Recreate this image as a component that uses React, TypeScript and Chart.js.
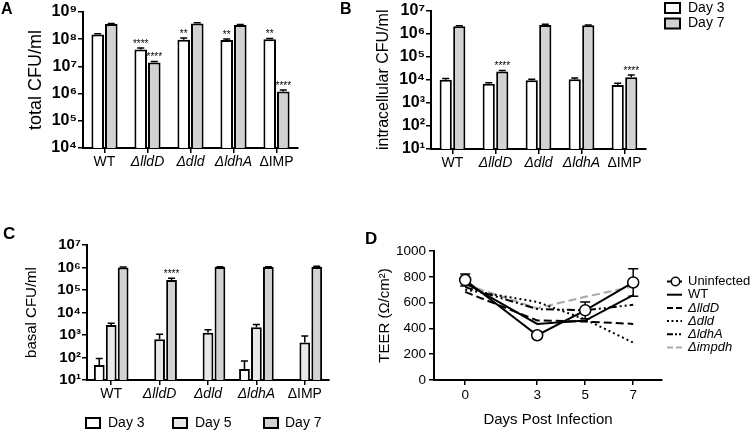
import React, { useEffect, useRef } from 'react';
import { Chart, registerables } from 'chart.js';

Chart.register(...registerables);

const FONT = "'Liberation Sans', Arial, Helvetica, sans-serif";

// ---------------- data ----------------
const strains = ['WT', 'ΔlldD', 'Δdld', 'ΔldhA', 'ΔIMP'];
const strainItalic = [false, true, true, true, false];

// Panel A: total CFU/ml
const totalDay3 = [1.5e8, 4.2e7, 9.5e7, 9.3e7, 1.0e8];
const totalDay3Err = [1.0e7, 5.0e6, 1.5e7, 8.0e6, 5.0e6];
const totalDay3Sig = ['', '****', '**', '**', '**'];
const totalDay7 = [3.6e8, 1.4e7, 3.8e8, 3.3e8, 1.2e6];
const totalDay7Err = [2.0e7, 1.0e6, 2.0e7, 2.0e7, 1.5e5];
const totalDay7Sig = ['', '****', '', '', '****'];
const totalTickValues = [1e4, 1e5, 1e6, 1e7, 1e8, 1e9];
const totalTickLabels = ['10⁴', '10⁵', '10⁶', '10⁷', '10⁸', '10⁹'];

// Panel B: intracellular CFU/ml
const intraDay3 = [1.0e4, 6.8e3, 9.5e3, 1.05e4, 6.0e3];
const intraDay3Err = [1.5e3, 6.0e2, 1.0e3, 1.5e3, 1.0e3];
const intraDay3Sig = ['', '', '', '', ''];
const intraDay7 = [2.1e6, 2.3e4, 2.4e6, 2.3e6, 1.3e4];
const intraDay7Err = [1.0e5, 2.0e3, 1.5e5, 1.0e5, 3.0e3];
const intraDay7Sig = ['', '****', '', '', '****'];
const intraTickValues = [1e1, 1e2, 1e3, 1e4, 1e5, 1e6, 1e7];
const intraTickLabels = ['10¹', '10²', '10³', '10⁴', '10⁵', '10⁶', '10⁷'];

// Panel C: basal CFU/ml
const basalDay3 = [47, null, null, 31, null];
const basalDay3Err = [43, null, null, 39, null];
const basalDay3Sig = ['', '', '', '', ''];
const basalDay5 = [2800, 650, 1260, 2200, 470];
const basalDay5Err = [500, 420, 440, 700, 430];
const basalDay5Sig = ['', '', '', '', ''];
const basalDay7 = [1.0e6, 2.8e5, 1.05e6, 1.05e6, 1.05e6];
const basalDay7Err = [4.0e4, 5.0e4, 4.0e4, 4.0e4, 8.0e4];
const basalDay7Sig = ['', '****', '', '', ''];
const basalTickValues = [1e1, 1e2, 1e3, 1e4, 1e5, 1e6, 1e7];
const basalTickLabels = ['10¹', '10²', '10³', '10⁴', '10⁵', '10⁶', '10⁷'];

// Panel D: TEER
const teerDays = [0, 3, 5, 7];
const teerDayLabels = ['0', '3', '5', '7'];
const teerTickValues = [0, 200, 400, 600, 800, 1000];
const teerTickLabels = ['0', '200', '400', '600', '800', '1000'];
const teerUninfected = [775, 347, 540, 756];
const teerUninfectedErr = [47, 0, 65, 106];
const teerWT = [752, 435, 461, 658];
const teerLldD = [683, 462, 453, 435];
const teerDld = [700, 605, 470, 290];
const teerLdhA = [720, 550, 540, 583];
const teerImpdh = [740, 556, 645, 725];

// ---------------- styles ----------------
const WHITE = '#ffffff';
const LIGHT = '#e8e8e8';
const GRAY = '#d2d2d2';

interface BarSeries {
  label: string;
  values: (number | null)[];
  errors: (number | null)[];
  stars: string[];
  fill: string;
}
interface LegendBox { x: number; y: number; w: number; h: number; tx: number; ty: number; }
interface BarPanelSpec {
  series: BarSeries[];
  min: number; max: number;
  tickValues: number[]; tickLabels: string[];
  yTitle: string; yTitleSize: number; yTitlePad: number;
  yWidth: number; xHeight: number;
  padding: { top: number; right: number; bottom: number; left: number };
  catPct: number; barPct: number;
  legend: LegendBox[]; legendFont: number;
  tickFont: number; xFont: number;
}

function barConfig(spec: BarPanelSpec): any {
  const extras = {
    id: 'barExtras',
    afterDatasetsDraw(chart: any) {
      const ctx = chart.ctx;
      const y = chart.scales.y;
      spec.series.forEach((s, di) => {
        const meta = chart.getDatasetMeta(di);
        meta.data.forEach((el: any, j: number) => {
          const v = s.values[j];
          if (v == null) return;
          const e = s.errors[j] || 0;
          const yBar = y.getPixelForValue(v);
          const yTop = e > 0 ? y.getPixelForValue(v + e) : yBar;
          ctx.save();
          ctx.strokeStyle = '#000';
          ctx.lineWidth = 1.5;
          if (e > 0) {
            ctx.beginPath();
            ctx.moveTo(el.x, yBar);
            ctx.lineTo(el.x, yTop);
            ctx.moveTo(el.x - 3.5, yTop);
            ctx.lineTo(el.x + 3.5, yTop);
            ctx.stroke();
          }
          if (s.stars[j]) {
            ctx.fillStyle = '#000';
            ctx.font = `10px ${FONT}`;
            ctx.textAlign = 'center';
            ctx.textBaseline = 'alphabetic';
            ctx.fillText(s.stars[j], el.x, Math.min(yTop, yBar) - 1.5);
          }
          ctx.restore();
        });
      });
    },
    afterDraw(chart: any) {
      const ctx = chart.ctx;
      spec.legend.forEach((b, i) => {
        const s = spec.series[i];
        ctx.save();
        ctx.fillStyle = s.fill;
        ctx.fillRect(b.x, b.y, b.w, b.h);
        ctx.strokeStyle = '#000';
        ctx.lineWidth = 2;
        ctx.strokeRect(b.x, b.y, b.w, b.h);
        ctx.fillStyle = '#000';
        ctx.font = `${spec.legendFont}px ${FONT}`;
        ctx.textAlign = 'left';
        ctx.textBaseline = 'middle';
        ctx.fillText(s.label, b.tx, b.ty);
        ctx.restore();
      });
    },
  };

  return {
    type: 'bar',
    data: {
      labels: strains,
      datasets: spec.series.map((s) => ({
        label: s.label,
        data: s.values,
        backgroundColor: s.fill,
        borderColor: '#000',
        borderWidth: 2,
        borderSkipped: 'bottom',
        categoryPercentage: spec.catPct,
        barPercentage: spec.barPct,
      })),
    },
    options: {
      animation: false,
      responsive: false,
      maintainAspectRatio: false,
      devicePixelRatio: 1,
      layout: { padding: spec.padding },
      plugins: { legend: { display: false }, tooltip: { enabled: false } },
      scales: {
        x: {
          type: 'category',
          offset: true,
          grid: { offset: false, display: true, drawOnChartArea: false, drawTicks: true, tickLength: 5, color: '#000', lineWidth: 1.5 },
          border: { display: true, color: '#000', width: 2 },
          ticks: {
            color: '#000',
            padding: 1,
            maxRotation: 0,
            autoSkip: false,
            font: (ctx: any) => ({ family: FONT, size: spec.xFont, style: strainItalic[ctx.index] ? 'italic' : 'normal' }),
          },
          afterFit: (s: any) => { s.height = spec.xHeight; },
        },
        y: {
          type: 'logarithmic',
          min: spec.min,
          max: spec.max,
          afterBuildTicks: (s: any) => { s.ticks = spec.tickValues.map((v) => ({ value: v })); },
          ticks: {
            autoSkip: false,
            color: '#000',
            padding: 1,
            font: { family: FONT, size: spec.tickFont, weight: 'bold' },
            callback: (_v: any, i: number) => spec.tickLabels[i],
          },
          grid: { display: true, drawOnChartArea: false, drawTicks: true, tickLength: 5, color: '#000', lineWidth: 1.5 },
          border: { display: true, color: '#000', width: 2 },
          title: {
            display: true,
            text: spec.yTitle,
            color: '#000',
            font: { family: FONT, size: spec.yTitleSize },
            padding: { top: spec.yTitlePad, bottom: 0 },
          },
          afterFit: (s: any) => { s.width = spec.yWidth; },
        },
      },
    },
    plugins: [extras],
  };
}

// ---------------- TEER panel ----------------
interface TeerSeries {
  label: string; values: number[]; color: string; dash: number[]; legendDash: number[]; italic: boolean; marker: boolean;
}
const teerSeries: TeerSeries[] = [
  { label: 'Uninfected', values: teerUninfected, color: '#000', dash: [], legendDash: [], italic: false, marker: true },
  { label: 'WT', values: teerWT, color: '#000', dash: [], legendDash: [], italic: false, marker: false },
  { label: 'ΔlldD', values: teerLldD, color: '#000', dash: [8, 4], legendDash: [6, 3], italic: true, marker: false },
  { label: 'Δdld', values: teerDld, color: '#000', dash: [2, 3], legendDash: [2, 2.5], italic: true, marker: false },
  { label: 'ΔldhA', values: teerLdhA, color: '#000', dash: [8, 3, 2, 3, 2, 3], legendDash: [6, 2, 2, 2, 2, 2], italic: true, marker: false },
  { label: 'Δimpdh', values: teerImpdh, color: '#a9a9a9', dash: [8, 4], legendDash: [6, 3], italic: true, marker: false },
];

function teerConfig(): any {
  const extras = {
    id: 'teerExtras',
    beforeDatasetsDraw(chart: any) {
      const ctx = chart.ctx;
      const xs = chart.scales.x;
      const ys = chart.scales.y;
      ctx.save();
      ctx.strokeStyle = '#000';
      ctx.lineWidth = 1.5;
      teerDays.forEach((d, i) => {
        const e = teerUninfectedErr[i];
        if (!e) return;
        const x = xs.getPixelForValue(d);
        const y1 = ys.getPixelForValue(teerUninfected[i] + e);
        const y2 = ys.getPixelForValue(teerUninfected[i] - e);
        ctx.beginPath();
        ctx.moveTo(x, y1); ctx.lineTo(x, y2);
        ctx.moveTo(x - 5, y1); ctx.lineTo(x + 5, y1);
        ctx.moveTo(x - 5, y2); ctx.lineTo(x + 5, y2);
        ctx.stroke();
      });
      ctx.restore();
    },
    afterDraw(chart: any) {
      const ctx = chart.ctx;
      const x0 = 307, x1 = 322, tx = 328, top = 56.5, step = 13.2;
      teerSeries.forEach((s, i) => {
        const y = top + i * step;
        ctx.save();
        ctx.strokeStyle = s.color;
        ctx.lineWidth = 2;
        ctx.setLineDash(s.legendDash);
        ctx.beginPath();
        ctx.moveTo(x0, y); ctx.lineTo(x1, y);
        ctx.stroke();
        if (s.marker) {
          ctx.setLineDash([]);
          ctx.beginPath();
          ctx.arc((x0 + x1) / 2 + 1, y, 4.2, 0, Math.PI * 2);
          ctx.fillStyle = '#fff';
          ctx.fill();
          ctx.lineWidth = 1.5;
          ctx.stroke();
        }
        ctx.fillStyle = '#000';
        ctx.font = `${s.italic ? 'italic ' : ''}13px ${FONT}`;
        ctx.textAlign = 'left';
        ctx.textBaseline = 'middle';
        ctx.fillText(s.label, tx, y);
        ctx.restore();
      });
    },
  };

  return {
    type: 'line',
    data: {
      datasets: teerSeries.map((s) => ({
        label: s.label,
        data: teerDays.map((d, i) => ({ x: d, y: s.values[i] })),
        borderColor: s.color,
        borderWidth: 2,
        borderDash: s.dash,
        fill: false,
        tension: 0,
        pointRadius: s.marker ? 5.5 : 0,
        pointBackgroundColor: '#fff',
        pointBorderColor: '#000',
        pointBorderWidth: 1.5,
      })),
    },
    options: {
      animation: false,
      responsive: false,
      maintainAspectRatio: false,
      devicePixelRatio: 1,
      layout: { padding: { top: 26, right: 88, bottom: 0, left: 0 } },
      plugins: { legend: { display: false }, tooltip: { enabled: false } },
      scales: {
        x: {
          type: 'linear',
          min: -1.3,
          max: 8.2,
          afterBuildTicks: (s: any) => { s.ticks = teerDays.map((v) => ({ value: v })); },
          ticks: {
            autoSkip: false,
            color: '#000',
            padding: 2,
            font: { family: FONT, size: 13.5 },
            callback: (_v: any, i: number) => teerDayLabels[i],
          },
          grid: { display: true, drawOnChartArea: false, drawTicks: true, tickLength: 5, color: '#000', lineWidth: 1.5 },
          border: { display: true, color: '#000', width: 2 },
          title: {
            display: true,
            text: 'Days Post Infection',
            color: '#000',
            font: { family: FONT, size: 15 },
            padding: { top: 0, bottom: 1 },
          },
          afterFit: (s: any) => { s.height = 50; },
        },
        y: {
          type: 'linear',
          min: 0,
          max: 1000,
          afterBuildTicks: (s: any) => { s.ticks = teerTickValues.map((v) => ({ value: v })); },
          ticks: {
            autoSkip: false,
            color: '#000',
            padding: 3,
            font: { family: FONT, size: 13.5 },
            callback: (_v: any, i: number) => teerTickLabels[i],
          },
          grid: { display: true, drawOnChartArea: false, drawTicks: true, tickLength: 5, color: '#000', lineWidth: 1.5 },
          border: { display: true, color: '#000', width: 2 },
          title: {
            display: true,
            text: 'TEER (Ω/cm²)',
            color: '#000',
            font: { family: FONT, size: 15 },
            padding: { top: 16, bottom: 0 },
          },
          afterFit: (s: any) => { s.width = 74; },
        },
      },
    },
    plugins: [extras],
  };
}

// ---------------- components ----------------
function ChartBox(props: { left: number; top: number; width: number; height: number; make: () => any }) {
  const ref = useRef<HTMLCanvasElement | null>(null);
  useEffect(() => {
    if (!ref.current) return;
    const chart = new Chart(ref.current, props.make());
    return () => chart.destroy();
  }, []);
  return (
    <div style={{ position: 'absolute', left: props.left, top: props.top, width: props.width, height: props.height }}>
      <canvas ref={ref} width={props.width} height={props.height} style={{ display: 'block', width: props.width, height: props.height }} />
    </div>
  );
}

function PanelLetter(props: { text: string; left: number; top: number; size: number }) {
  return (
    <div
      style={{
        position: 'absolute',
        left: props.left,
        top: props.top,
        fontFamily: FONT,
        fontWeight: 'bold',
        fontSize: props.size,
        lineHeight: 1,
        color: '#000',
      }}
    >
      {props.text}
    </div>
  );
}

export default function App() {
  const makeA = () =>
    barConfig({
      series: [
        { label: 'Day 3', values: totalDay3, errors: totalDay3Err, stars: totalDay3Sig, fill: WHITE },
        { label: 'Day 7', values: totalDay7, errors: totalDay7Err, stars: totalDay7Sig, fill: GRAY },
      ],
      min: 1e4, max: 1e9,
      tickValues: totalTickValues, tickLabels: totalTickLabels,
      yTitle: 'total CFU/ml', yTitleSize: 18, yTitlePad: 25,
      yWidth: 83, xHeight: 37,
      padding: { top: 12, right: 7, bottom: 0, left: 0 },
      catPct: 0.63, barPct: 0.93,
      legend: [], legendFont: 14,
      tickFont: 16, xFont: 14,
    });

  const makeB = () =>
    barConfig({
      series: [
        { label: 'Day 3', values: intraDay3, errors: intraDay3Err, stars: intraDay3Sig, fill: WHITE },
        { label: 'Day 7', values: intraDay7, errors: intraDay7Err, stars: intraDay7Sig, fill: GRAY },
      ],
      min: 1e1, max: 1e7,
      tickValues: intraTickValues, tickLabels: intraTickLabels,
      yTitle: 'intracellular CFU/ml', yTitleSize: 16, yTitlePad: 34,
      yWidth: 91, xHeight: 36,
      padding: { top: 10, right: 104, bottom: 0, left: 0 },
      catPct: 0.63, barPct: 0.9,
      legend: [
        { x: 325, y: 3, w: 15, h: 10, tx: 348, ty: 8.5 },
        { x: 325, y: 18.5, w: 15, h: 10, tx: 348, ty: 23.5 },
      ],
      legendFont: 14,
      tickFont: 16, xFont: 14,
    });

  const makeC = () =>
    barConfig({
      series: [
        { label: 'Day 3', values: basalDay3, errors: basalDay3Err, stars: basalDay3Sig, fill: WHITE },
        { label: 'Day 5', values: basalDay5, errors: basalDay5Err, stars: basalDay5Sig, fill: LIGHT },
        { label: 'Day 7', values: basalDay7, errors: basalDay7Err, stars: basalDay7Sig, fill: GRAY },
      ],
      min: 1e1, max: 1e7,
      tickValues: basalTickValues, tickLabels: basalTickLabels,
      yTitle: 'basal CFU/ml', yTitleSize: 15, yTitlePad: 23,
      yWidth: 87, xHeight: 50,
      padding: { top: 20, right: 16, bottom: 0, left: 0 },
      catPct: 0.74, barPct: 0.9,
      legend: [
        { x: 86, y: 193, w: 14, h: 10, tx: 108, ty: 198 },
        { x: 173, y: 193, w: 14, h: 10, tx: 195, ty: 198 },
        { x: 264, y: 193, w: 14, h: 10, tx: 285, ty: 198 },
      ],
      legendFont: 14,
      tickFont: 15, xFont: 14,
    });

  return (
    <div style={{ position: 'absolute', left: 0, top: 0, width: 750, height: 430, background: '#fff', overflow: 'hidden' }}>
      <ChartBox left={0} top={0} width={305} height={185} make={makeA} />
      <ChartBox left={340} top={0} width={410} height={185} make={makeB} />
      <ChartBox left={0} top={225} width={345} height={205} make={makeC} />
      <ChartBox left={360} top={225} width={390} height={205} make={teerConfig} />
      <PanelLetter text="A" left={1} top={1} size={16} />
      <PanelLetter text="B" left={340} top={1} size={16} />
      <PanelLetter text="C" left={3} top={225} size={17} />
      <PanelLetter text="D" left={365} top={230} size={17} />
    </div>
  );
}
